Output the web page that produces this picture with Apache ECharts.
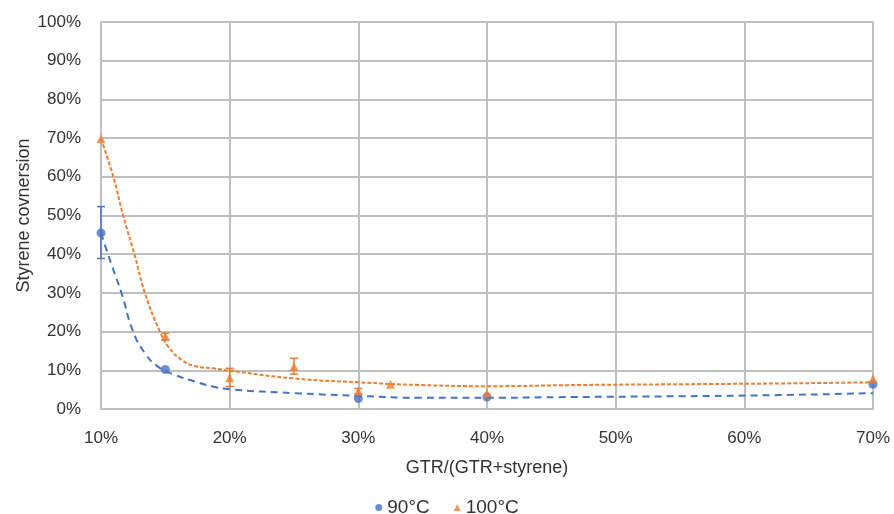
<!DOCTYPE html>
<html>
<head>
<meta charset="utf-8">
<script src="https://cdn.jsdelivr.net/npm/echarts@6/dist/echarts.min.js"></script>
<style>html,body{margin:0;padding:0;background:#fff}#c{width:894px;height:514px}</style>
</head>
<body>
<div id="c"></div>
<script>
// Measured points (x: GTR fraction %, y: styrene conversion %)
const x90 = [10, 15, 30, 40, 70];
const y90 = [45.5, 10.2, 2.7, 3.1, 6.4];
const x100 = [10, 15, 20, 25, 30, 32.5, 40, 70];
const y100 = [69.8, 18.8, 8.1, 11.0, 4.6, 6.4, 4.1, 7.8];
// Error bars [x, low, high]
const err90 = [[10, 38.9, 52.3]];
const err100 = [[15, 17.8, 19.6], [20, 5.8, 10.5], [25, 9.0, 13.1], [30, 3.9, 5.3]];
// Trend lines
const tx90 = [10, 10.3, 10.83, 11.6, 12.5, 13.42, 14.45, 15.75, 17.3, 18.6, 20, 25, 30, 34.8, 40, 46.7, 55, 62.8, 70];
const ty90 = [45.4, 42.4, 37.2, 29.9, 20, 14.4, 10.9, 8.8, 7.1, 5.9, 5.1, 4.1, 3.4, 2.9, 2.9, 3.1, 3.3, 3.6, 4.1];
const tx100 = [10, 10.96, 11.73, 12.64, 13.42, 14.58, 15.23, 16.27, 17.3, 18.7, 20, 25, 30, 34.8, 40, 47.2, 55, 62.8, 70];
const ty100 = [69.8, 60, 49.9, 39.5, 29.9, 20, 16.1, 12.7, 11.1, 10.5, 9.9, 7.9, 6.9, 6.2, 5.9, 6.2, 6.4, 6.6, 6.9];
const xTicks = [10, 20, 30, 40, 50, 60, 70];
const yTicks = [0, 10, 20, 30, 40, 50, 60, 70, 80, 90, 100];

const BLUE = '#4472C4', ORANGE = '#ED7D31';
const FONT = 'Liberation Sans';
const TXT = '#333333';

function zip(a, b) { return a.map((v, i) => [v, b[i]]); }
function errSeries(data, color) {
  return {
    type: 'custom', silent: true, z: 3,
    renderItem: function (params, api) {
      const x = api.value(0);
      const lo = api.coord([x, api.value(1)]);
      const hi = api.coord([x, api.value(2)]);
      const w = 4;
      const st = { stroke: color, lineWidth: 1.5 };
      return { type: 'group', children: [
        { type: 'line', shape: { x1: lo[0], y1: lo[1], x2: hi[0], y2: hi[1] }, style: st },
        { type: 'line', shape: { x1: lo[0] - w, y1: lo[1], x2: lo[0] + w, y2: lo[1] }, style: st },
        { type: 'line', shape: { x1: hi[0] - w, y1: hi[1], x2: hi[0] + w, y2: hi[1] }, style: st }
      ]};
    },
    data: data
  };
}

const chart = echarts.init(document.getElementById('c'));
chart.setOption({
  animation: false,
  textStyle: { fontFamily: FONT },
  grid: { left: 101, right: 21, top: 22, bottom: 105, outerBoundsMode: 'none', containLabel: false },
  legend: {
    top: 493, left: 'center', itemWidth: 7, itemHeight: 7, itemGap: 24,
    textStyle: { fontSize: 19, color: TXT, fontFamily: FONT },
    data: [{ name: '90°C', icon: 'circle' }, { name: '100°C', icon: 'triangle' }]
  },
  xAxis: {
    type: 'value', min: 10, max: 70, interval: 10,
    name: 'GTR/(GTR+styrene)', nameLocation: 'middle', nameGap: 50,
    nameMoveOverlap: false,
    nameTextStyle: { fontSize: 18, color: TXT },
    axisLine: { lineStyle: { color: '#BFBFBF', width: 2 } },
    axisTick: { show: false },
    axisLabel: { fontSize: 17, color: TXT, margin: 21, formatter: v => xTicks.includes(v) ? v + '%' : '' },
    splitLine: { lineStyle: { color: '#BFBFBF', width: 2 } }
  },
  yAxis: {
    type: 'value', min: 0, max: 100, interval: 10,
    name: 'Styrene covnersion', nameLocation: 'middle', nameGap: 68,
    nameMoveOverlap: false,
    nameTextStyle: { fontSize: 18, color: TXT },
    axisLine: { show: true, lineStyle: { color: '#BFBFBF', width: 2 } },
    axisTick: { show: false },
    axisLabel: { fontSize: 17, color: TXT, margin: 20, formatter: v => yTicks.includes(v) ? v + '%' : '' },
    splitLine: { lineStyle: { color: '#BFBFBF', width: 2 } }
  },
  series: [
    { name: 'trend90', type: 'line', smooth: 0.5, showSymbol: false, silent: true, z: 2,
      lineStyle: { color: BLUE, width: 2, type: [7, 5] }, data: zip(tx90, ty90) },
    { name: 'trend100', type: 'line', smooth: 0.5, showSymbol: false, silent: true, z: 2,
      lineStyle: { color: ORANGE, width: 2, type: [4, 2] }, data: zip(tx100, ty100) },
    errSeries(err90, BLUE),
    errSeries(err100, ORANGE),
    { name: '90°C', type: 'scatter', symbol: 'circle', symbolSize: 9, z: 4,
      itemStyle: { color: BLUE }, data: zip(x90, y90) },
    { name: '100°C', type: 'scatter', symbol: 'triangle', symbolSize: 9, z: 4,
      itemStyle: { color: ORANGE }, data: zip(x100, y100) }
  ]
});
</script>
</body>
</html>
